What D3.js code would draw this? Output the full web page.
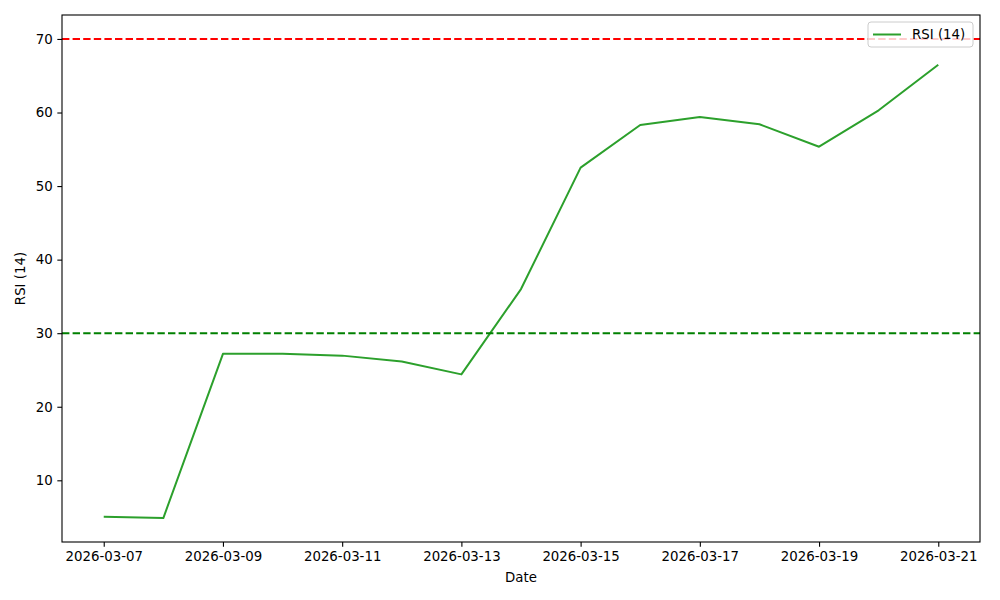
<!DOCTYPE html>
<html>
<head>
<meta charset="utf-8">
<script src="https://cdn.jsdelivr.net/npm/d3@7"></script>
<style>
  body { margin: 0; background: #fff; }
  svg { font-family: "DejaVu Sans", sans-serif; }
</style>
</head>
<body>
<svg id="chart" width="1000" height="600"></svg>
<script>
// data
const dates = ["2026-03-07", "2026-03-08", "2026-03-09", "2026-03-10", "2026-03-11",
  "2026-03-12", "2026-03-13", "2026-03-14", "2026-03-15", "2026-03-16",
  "2026-03-17", "2026-03-18", "2026-03-19", "2026-03-20", "2026-03-21"]
const rsi = [5.06, 4.87, 27.2, 27.2, 26.95, 26.15, 24.4, 36.0, 52.5, 58.3, 59.4, 58.4, 55.35, 60.3, 66.5]
const levels = [{value: 70, color: "#ff0000"}, {value: 30, color: "#008000"}]
const yTicks = [10, 20, 30, 40, 50, 60, 70]
const xTickDates = ["2026-03-07", "2026-03-09", "2026-03-11", "2026-03-13", "2026-03-15",
  "2026-03-17", "2026-03-19", "2026-03-21"]
const seriesName = "RSI (14)"

const parse = d3.utcParse("%Y-%m-%d")
const fmt = d3.utcFormat("%Y-%m-%d")
const points = dates.map((d, i) => ({date: parse(d), value: rsi[i]}))

const m = {left: 62, right: 20, top: 15, bottom: 58}
const W = 1000, H = 600
const iw = W - m.left - m.right, ih = H - m.top - m.bottom

const svg = d3.select("#chart")
const g = svg.append("g").attr("transform", `translate(${m.left},${m.top})`)

// matplotlib style 5% padding
const xExt = d3.extent(points, d => d.date)
const xPad = (xExt[1] - xExt[0]) * 0.05
const x = d3.scaleUtc().domain([+xExt[0] - xPad, +xExt[1] + xPad]).range([0, iw])

const yMin = Math.min(d3.min(rsi), 30), yMax = Math.max(d3.max(rsi), 70)
const yPad = (yMax - yMin) * 0.05
const y = d3.scaleLinear().domain([yMin - yPad, yMax + yPad]).range([ih, 0])

// line
const line = d3.line().x(d => x(d.date)).y(d => y(d.value))
g.append("path").datum(points)
  .attr("fill", "none").attr("stroke", "#2ca02c").attr("stroke-width", 2)
  .attr("stroke-linejoin", "round").attr("d", line)

// threshold lines
g.selectAll(".lvl").data(levels).enter().append("line")
  .attr("x1", 0).attr("x2", iw)
  .attr("y1", d => y(d.value)).attr("y2", d => y(d.value))
  .attr("stroke", d => d.color).attr("stroke-width", 2)
  .attr("stroke-dasharray", "7.4,3.2")

// axes
const xAxis = d3.axisBottom(x).tickValues(xTickDates.map(parse)).tickFormat(fmt)
  .tickSizeInner(4.67).tickSizeOuter(0).tickPadding(4.7)
const yAxis = d3.axisLeft(y).tickValues(yTicks)
  .tickSizeInner(4.67).tickSizeOuter(0).tickPadding(4.7)

const gx = g.append("g").attr("transform", `translate(0,${ih})`).call(xAxis)
const gy = g.append("g").call(yAxis)
;[gx, gy].forEach(a => {
  a.select(".domain").remove()
  a.selectAll("text").attr("font-size", 13.33).attr("fill", "#000")
    .attr("font-family", "DejaVu Sans, sans-serif")
  a.selectAll("line").attr("stroke", "#000").attr("stroke-width", 1.1)
})

// frame
g.append("rect").attr("width", iw).attr("height", ih)
  .attr("fill", "none").attr("stroke", "#000").attr("stroke-width", 1.1)

// axis labels
svg.append("text").attr("x", m.left + iw / 2).attr("y", 582)
  .attr("text-anchor", "middle").attr("font-size", 13.33).text("Date")
svg.append("text").attr("transform", `translate(25,${m.top + ih / 2}) rotate(-90)`)
  .attr("text-anchor", "middle").attr("font-size", 13.33).text(seriesName)

// legend
const lg = g.append("g").attr("transform", `translate(${iw - 112},7)`)
lg.append("rect").attr("width", 105).attr("height", 25).attr("rx", 3)
  .attr("fill", "#fff").attr("fill-opacity", 0.8)
  .attr("stroke", "#cccccc").attr("stroke-width", 1)
lg.append("line").attr("x1", 5).attr("x2", 33).attr("y1", 12.5).attr("y2", 12.5)
  .attr("stroke", "#2ca02c").attr("stroke-width", 2)
lg.append("text").attr("x", 44).attr("y", 17.3).attr("font-size", 13.33).text(seriesName)
</script>
</body>
</html>
